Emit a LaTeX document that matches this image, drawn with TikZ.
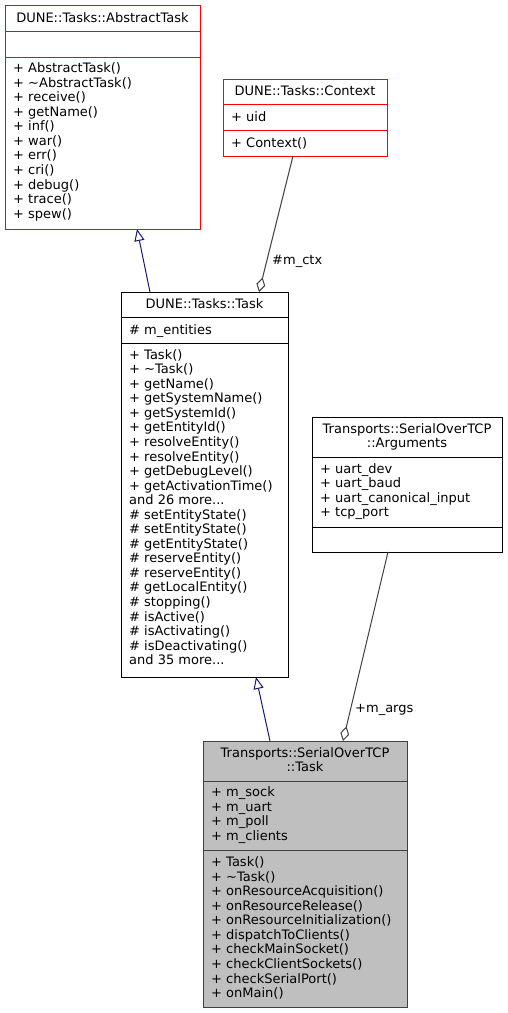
\documentclass[tikz,border=0pt]{standalone}
\usepackage{fontspec}
\setmainfont{DejaVu Sans}
\usetikzlibrary{arrows.meta,calc}
\definecolor{navyedge}{HTML}{191970}
\definecolor{aggedge}{HTML}{404040}
\definecolor{grayfill}{HTML}{BFBFBF}
\begin{document}
\begin{tikzpicture}[x=1pt,y=-1pt,
  font=\fontsize{13}{14.55}\selectfont,
  box/.style={draw=black, line width=1pt, inner sep=0pt, outer sep=0pt, fill=white, anchor=north west},
  redbox/.style={box, draw=red},
  graybox/.style={box, draw=aggedge, fill=grayfill},
  sepline/.style={line width=1pt},
  items/.style={anchor=north west, align=left, inner sep=0pt},
  ttl/.style={anchor=north, align=center, inner sep=0pt},
  lbl/.style={anchor=base west, inner sep=0pt},
  inh/.style={draw=navyedge, line width=1pt, -{Triangle[open, length=12pt, width=10pt, fill=white]}},
  agg/.style={draw=aggedge, line width=1pt, {Diamond[open, length=15pt, width=9pt, fill=white]}-}
]
\useasboundingbox (0,0) rectangle (507,1013);

% AbstractTask
\node[redbox, minimum width=195pt, minimum height=224pt] (abs) at (5,5) {};
\draw[sepline, red] (5,31) -- (200,31);
\draw[sepline, red] (5,57) -- (200,57);
\node[ttl] (absT) at (102.5,12.3) {\strut DUNE::Tasks::AbstractTask};
\node[items] (absM) at (13,62.3) {\strut + AbstractTask()\\+ \textasciitilde AbstractTask()\\+ receive()\\+ getName()\\+ inf()\\+ war()\\+ err()\\+ cri()\\+ debug()\\+ trace()\\+ spew()};

% Context
\node[redbox, minimum width=164pt, minimum height=77pt] (ctx) at (223,79) {};
\draw[sepline, red] (223,104) -- (387,104);
\draw[sepline, red] (223,130) -- (387,130);
\node[ttl] (ctxT) at (305,85.3) {\strut DUNE::Tasks::Context};
\node[items] (ctxA) at (231,110.8) {\strut + uid};
\node[items] (ctxM) at (231,136.8) {\strut + Context()};

% Task
\node[box, minimum width=167pt, minimum height=385pt] (task) at (121,292) {};
\draw[sepline] (121,317) -- (288,317);
\draw[sepline] (121,343) -- (288,343);
\node[ttl] (taskT) at (204.5,298.3) {\strut DUNE::Tasks::Task};
\node[items] (taskA) at (129,323.8) {\strut \# m\_entities};
\node[items] (taskM) at (129,348.8) {\strut + Task()\\+ \textasciitilde Task()\\+ getName()\\+ getSystemName()\\+ getSystemId()\\+ getEntityId()\\+ resolveEntity()\\+ resolveEntity()\\+ getDebugLevel()\\+ getActivationTime()\\and 26 more...\\\# setEntityState()\\\# setEntityState()\\\# getEntityState()\\\# reserveEntity()\\\# reserveEntity()\\\# getLocalEntity()\\\# stopping()\\\# isActive()\\\# isActivating()\\\# isDeactivating()\\and 35 more...};

% Arguments
\node[box, minimum width=190pt, minimum height=135pt] (args) at (312,417) {};
\draw[sepline] (312,457) -- (502,457);
\draw[sepline] (312,527) -- (502,527);
\node[ttl] (argsT) at (407,422.8) {\strut Transports::SerialOverTCP\\::Arguments};
\node[items] (argsA) at (320,462.8) {\strut + uart\_dev\\+ uart\_baud\\+ uart\_canonical\_input\\+ tcp\_port};

% SerialOverTCP::Task
\node[graybox, minimum width=204pt, minimum height=266pt] (ser) at (203,741) {};
\draw[sepline, aggedge] (203,781) -- (407,781);
\draw[sepline, aggedge] (203,850) -- (407,850);
\node[ttl] (serT) at (305,746.8) {\strut Transports::SerialOverTCP\\::Task};
\node[items] (serA) at (211,786.3) {\strut + m\_sock\\+ m\_uart\\+ m\_poll\\+ m\_clients};
\node[items] (serM) at (211,856.3) {\strut + Task()\\+ \textasciitilde Task()\\+ onResourceAcquisition()\\+ onResourceRelease()\\+ onResourceInitialization()\\+ dispatchToClients()\\+ checkMainSocket()\\+ checkClientSockets()\\+ checkSerialPort()\\+ onMain()};

% connectors
\draw[inh] ([xshift=29pt]task.north west) -- ([xshift=132pt]abs.south west);
\draw[agg] ([xshift=138pt]task.north west) -- ([xshift=70pt]ctx.south west);
\draw[inh] ([xshift=67pt]ser.north west) -- ([xshift=135pt]task.south west);
\draw[agg] ([xshift=140pt]ser.north west) -- ([xshift=76pt]args.south west);

\node[lbl] (lctx) at (272,264) {\#m\_ctx};
\node[lbl] (largs) at (355,712) {+m\_args};
\end{tikzpicture}
\end{document}
